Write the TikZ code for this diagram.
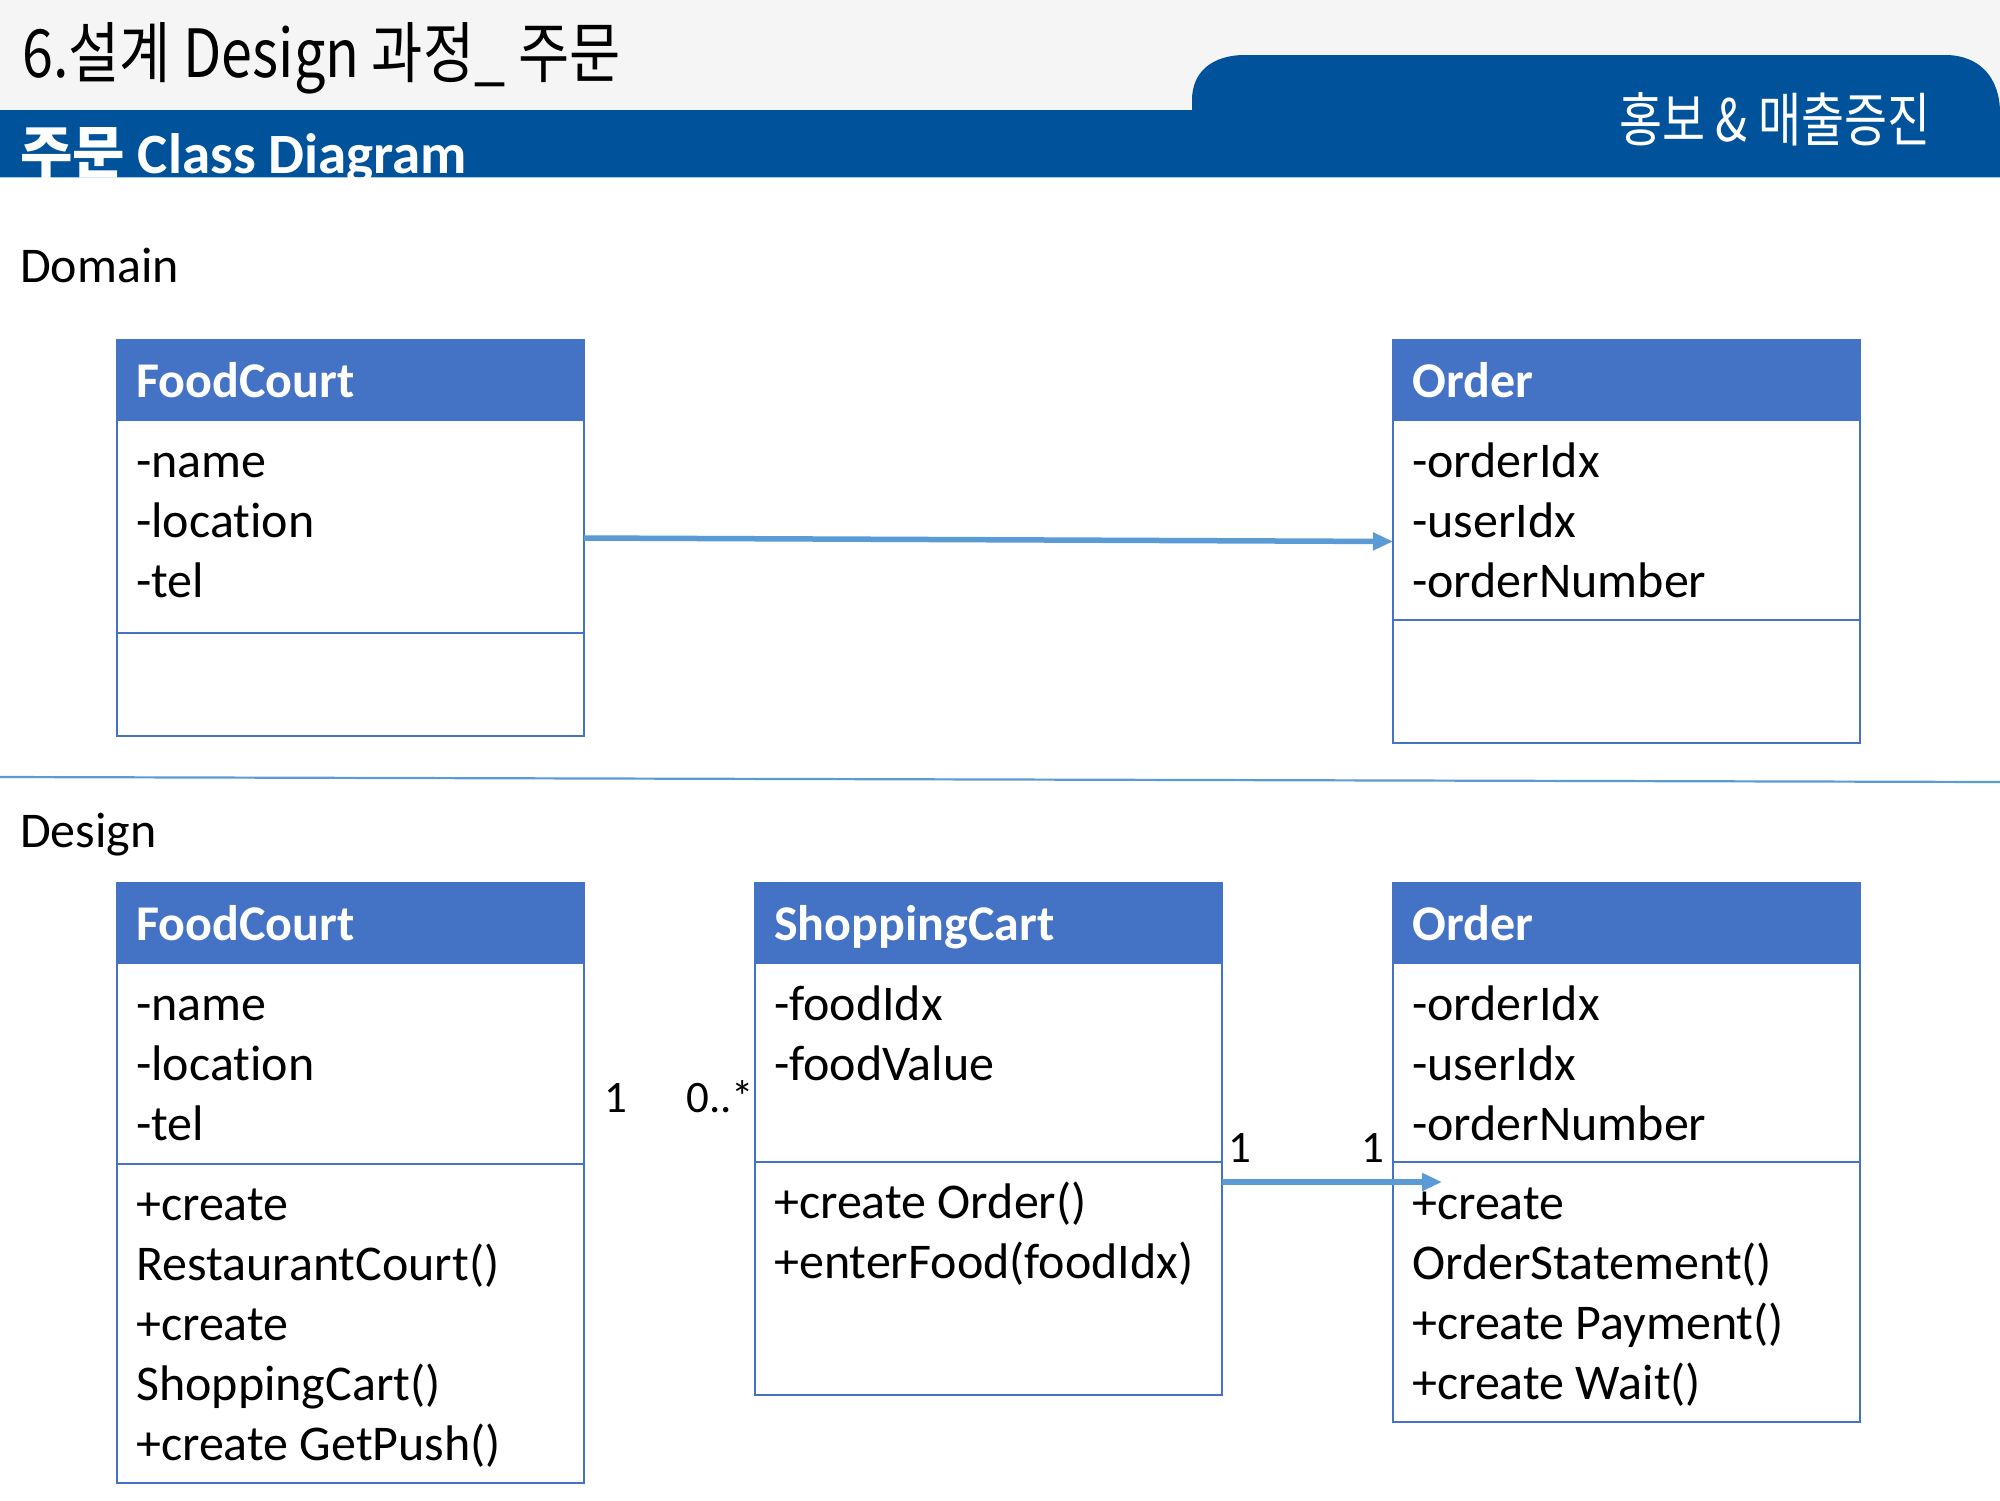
\documentclass[tikz,border=0pt]{standalone}
\usepackage{graphicx}
\usepackage{fontspec}
\setmainfont{Carlito}[Ligatures=NoCommon]
\newfontfamily\krfont{Noto Sans CJK KR}
\usetikzlibrary{arrows.meta}
\definecolor{barblue}{HTML}{00539B}
\definecolor{hdrblue}{HTML}{4472C4}
\definecolor{arrblue}{HTML}{5B9BD5}
\definecolor{topgray}{HTML}{F5F5F5}
\tikzset{
  classbox/.style={draw=hdrblue, line width=1.8pt, fill=white, anchor=north west,
    minimum width=467pt, inner sep=0pt, outer sep=0pt},
  classhead/.style={fill=hdrblue, draw=hdrblue, line width=1.8pt, anchor=north west,
    minimum width=467pt, minimum height=80pt, inner sep=0pt, outer sep=0pt},
  divline/.style={draw=hdrblue, line width=1.8pt},
  headtext/.style={anchor=base west, text=white, inner sep=0pt,
    font=\fontsize{50}{58}\selectfont\bfseries},
  bodytext/.style={anchor=base west, inner sep=0pt, font=\fontsize{50}{58}\selectfont},
  mult/.style={anchor=base west, inner sep=0pt, font=\fontsize{45}{52}\selectfont},
  sectlabel/.style={anchor=base west, inner sep=0pt, font=\fontsize{50}{60}\selectfont},
  assoc/.style={draw=arrblue, line width=5.5pt, -{Triangle[length=20pt,width=17pt]}},
  sepline/.style={draw=arrblue, line width=2.2pt},
}
% #1 name, #2 left x, #3 top y, #4 bottom y, #5 divider y, #6 title, #7 attribute list
\newcommand\umlclassbox[7]{%
  \node[classbox, minimum height={#4-#3}] (#1) at (#2,#3) {};
  \node[classhead] (#1-h) at (#2,#3) {};
  \draw[divline] (#2,#5) -- (#2+467,#5);
  \node[headtext] (#1-t) at (#2+19,#3+57) {#6};
  \foreach \t [count=\i] in {#7} {
    \node[bodytext] (#1-a\i) at (#2+19,#3+77+60*\i) {\t};
  }
}
\begin{document}
\begin{tikzpicture}[x=1pt,y=-1pt]
\useasboundingbox (0,0) rectangle (2000,1500);
\fill[white] (0,0) rectangle (2000,1500);
% header
\fill[topgray] (0,0) rectangle (2000,111);
\fill[barblue] (0,110) rectangle (2000,177);
\fill[barblue] (1192,113) -- (1192,100) .. controls (1192,72) and (1212,55) .. (1245,55)
  -- (1945,55) .. controls (1980,55) and (2000,78) .. (2000,113) -- cycle;
\draw[arrblue!55, line width=1.5pt] (0,177.5) -- (2000,177.5);
\node[anchor=base west, inner sep=0pt] (title) at (22,77)
  {\resizebox{598pt}{55pt}{\krfont 6.설계 Design 과정\_ 주문}};
\node[anchor=base west, inner sep=0pt, text=white] (subtitle) at (20,173)
  {\fontsize{57}{62}\selectfont{\krfont\bfseries 주문} \bfseries Class Diagram};
\node[anchor=base west, inner sep=0pt, text=white] (tabtext) at (1619,141)
  {\resizebox{311pt}{49pt}{\krfont 홍보 \& 매출증진}};

% section labels
\node[sectlabel] (domain) at (20,282) {Domain};
\draw[sepline] (0,777) -- (2000,782);
\node[sectlabel] (design) at (20,847) {Design};

% Domain classes
\umlclassbox{dfc}{117}{340}{736}{633}{FoodCourt}{-name,-location,-tel}
\umlclassbox{dord}{1393}{340}{743}{620}{Order}{-orderIdx,-userIdx,-orderNumber}
\draw[assoc] (dfc.east) -- (dord.west);

% Design classes
\umlclassbox{fc}{117}{883}{1483}{1164}{FoodCourt}{-name,-location,-tel}
\foreach \t [count=\i] in {+create,RestaurantCourt(),+create,ShoppingCart(),+create GetPush()} {
  \node[bodytext] (fc-m\i) at (136,1160+60*\i) {\t};
}
\umlclassbox{sc}{755}{883}{1395}{1162}{ShoppingCart}{-foodIdx,-foodValue}
\foreach \t [count=\i] in {+create Order(),+enterFood(foodIdx)} {
  \node[bodytext] (sc-m\i) at (774,1158+60*\i) {\t};
}
\umlclassbox{ord}{1393}{883}{1422}{1162}{Order}{-orderIdx,-userIdx,-orderNumber}
\foreach \t [count=\i] in {+create,OrderStatement(),+create Payment(),+create Wait()} {
  \node[bodytext] (ord-m\i) at (1412,1159+60*\i) {\t};
}

% multiplicities
\node[mult] (m1) at (604,1112) {1};
\node[mult] (m2) at (686,1112) {0..*};
\node[mult] (m3) at (1228,1162) {1};
\node[mult] (m4) at (1361,1162) {1};

% association ShoppingCart -> Order
\coordinate (tipd) at (1442,1182);
\draw[assoc] (sc.east |- tipd) -- (tipd);
\end{tikzpicture}
\end{document}
